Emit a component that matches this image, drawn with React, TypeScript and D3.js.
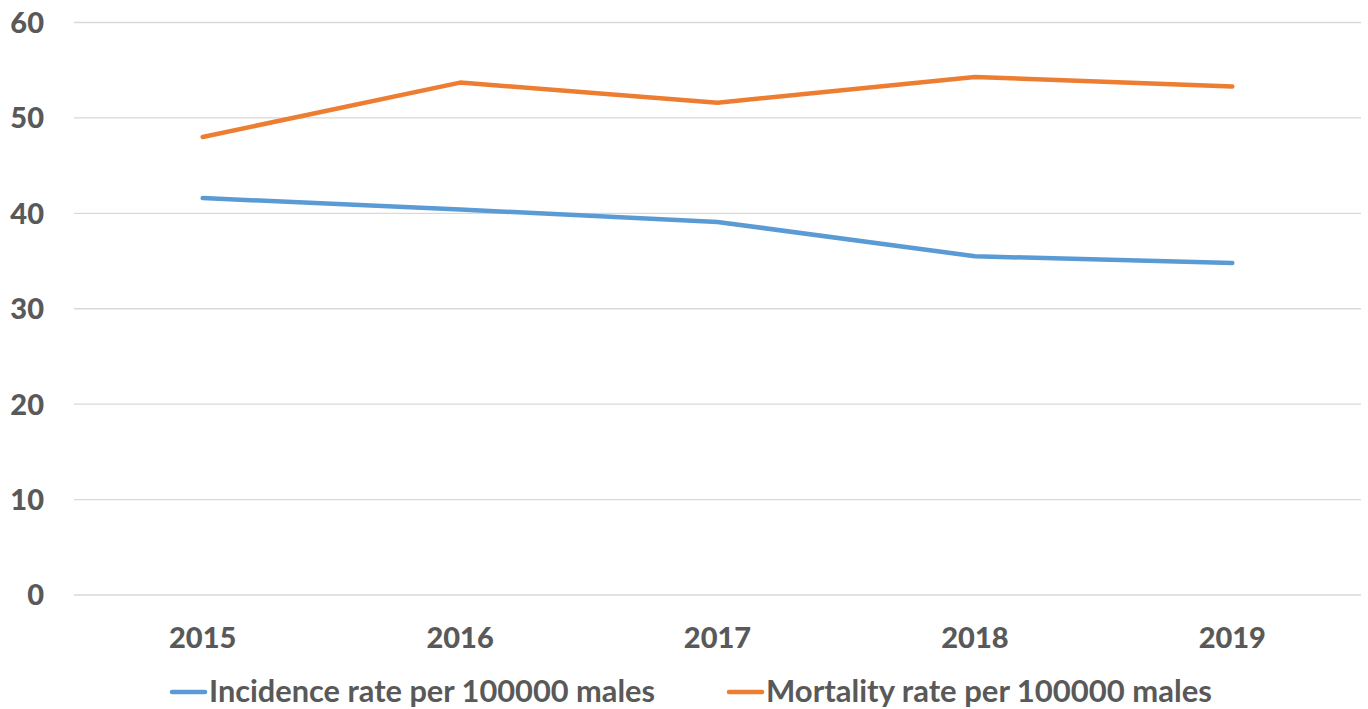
import * as d3 from "d3";
import { useEffect, useRef } from "react";

const years = ["2015", "2016", "2017", "2018", "2019"];
const incidence = [41.6, 40.4, 39.1, 35.5, 34.8];
const mortality = [48.0, 53.7, 51.6, 54.3, 53.3];
const yTicks = [0, 10, 20, 30, 40, 50, 60];
const seriesNames = ["Incidence rate per 100000 males", "Mortality rate per 100000 males"];
const seriesColors = ["#5B9BD5", "#ED7D31"];

const App = () => {
  const svgRef = useRef(null);

  useEffect(() => {
    const w = 1368;
    const h = 709;
    const font = "Lato, 'Open Sans', sans-serif";
    const textColor = "#595959";
    const svg = d3.select(svgRef.current).attr("width", w).attr("height", h);
    svg.selectAll("*").remove();

    // scales
    const xScale = d3.scalePoint().domain(years).range([74, 1361]).padding(0.5);
    const yScale = d3.scaleLinear().domain([0, 60]).range([595, 22.5]);

    // gridlines
    svg
      .append("g")
      .selectAll("line")
      .data(yTicks)
      .enter()
      .append("line")
      .attr("x1", 74)
      .attr("x2", 1361)
      .attr("y1", (d) => yScale(d))
      .attr("y2", (d) => yScale(d))
      .attr("stroke", "#D9D9D9")
      .attr("stroke-width", 1.3);

    // y labels
    svg
      .append("g")
      .selectAll("text")
      .data(yTicks)
      .enter()
      .append("text")
      .text((d) => d)
      .attr("x", 44)
      .attr("y", (d) => yScale(d))
      .attr("dy", "0.36em")
      .attr("text-anchor", "end")
      .attr("font-family", font)
      .attr("font-weight", 900)
      .attr("font-size", 29)
      .attr("fill", textColor);

    // x labels
    svg
      .append("g")
      .selectAll("text")
      .data(years)
      .enter()
      .append("text")
      .text((d) => d)
      .attr("x", (d) => xScale(d))
      .attr("y", 648)
      .attr("text-anchor", "middle")
      .attr("font-family", font)
      .attr("font-weight", 900)
      .attr("font-size", 29)
      .attr("fill", textColor);

    // lines
    const line = d3
      .line<number>()
      .x((d, i) => xScale(years[i]))
      .y((d) => yScale(d));

    [incidence, mortality].forEach((s, i) => {
      svg
        .append("path")
        .datum(s)
        .attr("d", line)
        .attr("fill", "none")
        .attr("stroke", seriesColors[i])
        .attr("stroke-width", 4.5)
        .attr("stroke-linecap", "round")
        .attr("stroke-linejoin", "round");
    });

    // legend
    const legendX = [172, 729];
    seriesNames.forEach((name, i) => {
      const g = svg.append("g").attr("transform", `translate(${legendX[i]},692)`);
      g.append("line")
        .attr("x1", 0)
        .attr("x2", 33)
        .attr("stroke", seriesColors[i])
        .attr("stroke-width", 4.5)
        .attr("stroke-linecap", "round");
      g.append("text")
        .text(name)
        .attr("x", 37)
        .attr("y", 10)
        .attr("font-family", font)
        .attr("font-weight", "bold")
        .attr("font-size", 30)
        .attr("textLength", 446)
        .attr("lengthAdjust", "spacingAndGlyphs")
        .attr("fill", textColor);
    });
  }, []);

  return (
    <div style={{ position: "absolute", left: 0, top: 0 }}>
      <svg ref={svgRef}></svg>
    </div>
  );
};

export default App;
